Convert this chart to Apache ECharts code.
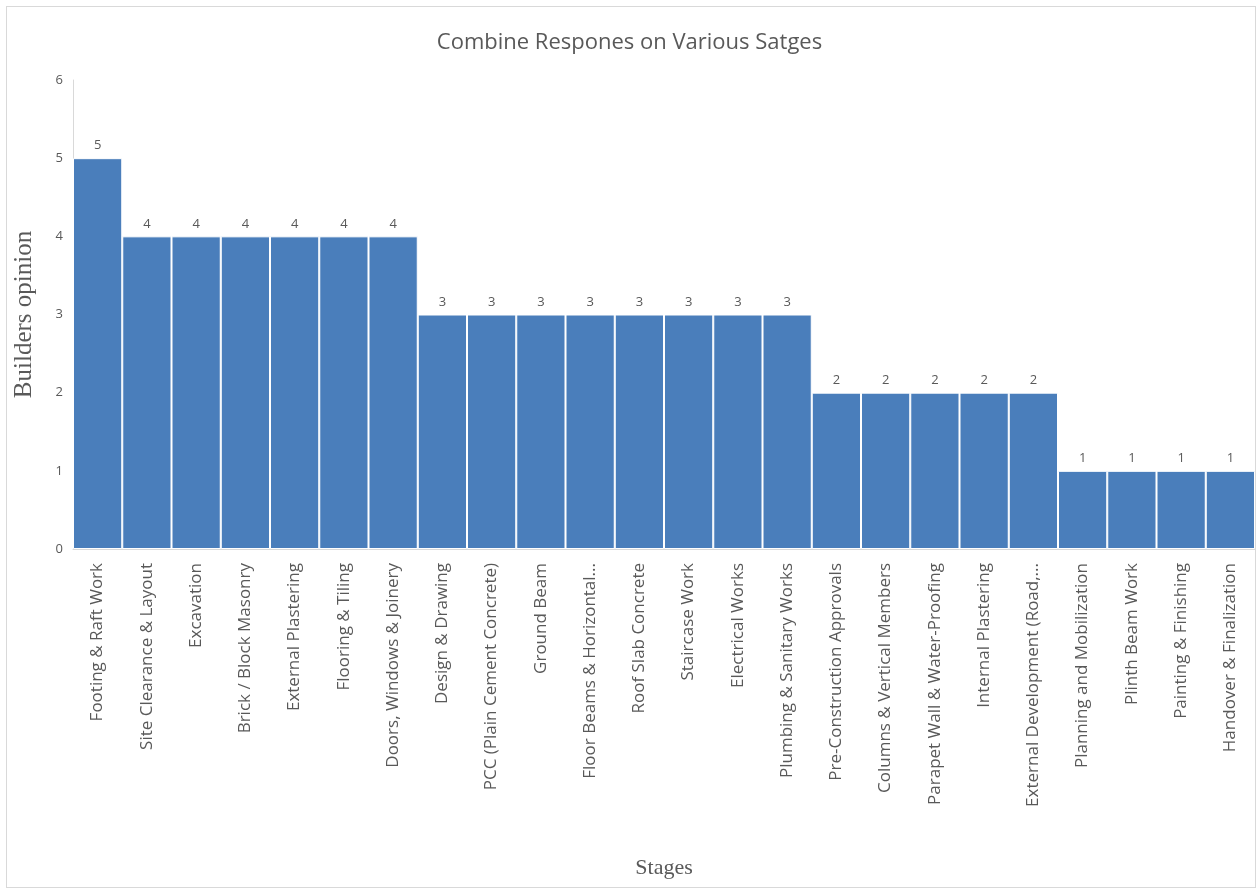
<!DOCTYPE html>
<html>
<head>
<meta charset="utf-8">
<script src="https://cdn.jsdelivr.net/npm/echarts@6/dist/echarts.min.js"></script>
<style>
  html, body { margin: 0; padding: 0; background: #fff; }
  #frame { position: absolute; left: 6px; top: 6px; width: 1250px; height: 882px; border: 1px solid #d9d9d9; box-sizing: border-box; }
  #chart { width: 1259px; height: 895px; }
</style>
</head>
<body>
<div id="frame"></div>
<div id="chart"></div>
<script>
  // stages and builders' scores
  const stages = [
    'Footing & Raft Work', 'Site Clearance & Layout', 'Excavation', 'Brick / Block Masonry',
    'External Plastering', 'Flooring & Tiling', 'Doors, Windows & Joinery', 'Design & Drawing',
    'PCC (Plain Cement Concrete)', 'Ground Beam', 'Floor Beams & Horizontal...', 'Roof Slab Concrete',
    'Staircase Work', 'Electrical Works', 'Plumbing & Sanitary Works', 'Pre-Construction Approvals',
    'Columns & Vertical Members', 'Parapet Wall & Water-Proofing', 'Internal Plastering',
    'External Development (Road,...', 'Planning and Mobilization', 'Plinth Beam Work',
    'Painting & Finishing', 'Handover & Finalization'
  ]
  const opinion = [5, 4, 4, 4, 4, 4, 4, 3, 3, 3, 3, 3, 3, 3, 3, 2, 2, 2, 2, 2, 1, 1, 1, 1]

  const myChart = echarts.init(document.getElementById('chart'))
  const option = {
    animation: false,
    title: {
      text: 'Combine Respones on Various Satges',
      left: 'center',
      top: 27,
      textStyle: { fontFamily: 'Open Sans', fontSize: 22, fontWeight: 'normal', color: '#595959' }
    },
    grid: { left: 73, right: 4, top: 80, bottom: 346 },
    xAxis: {
      type: 'category',
      data: stages,
      name: 'Stages',
      nameLocation: 'middle',
      nameGap: 308,
      nameTextStyle: { fontFamily: 'Liberation Serif', fontSize: 22, color: '#595959' },
      axisLine: { lineStyle: { color: '#d9d9d9' } },
      axisTick: { show: false },
      axisLabel: { rotate: 90, interval: 0, fontFamily: 'Open Sans', fontSize: 17, color: '#595959', margin: 14 }
    },
    yAxis: {
      type: 'value',
      min: 0,
      max: 6,
      interval: 1,
      name: 'Builders opinion',
      nameLocation: 'middle',
      nameGap: 36,
      nameTextStyle: { fontFamily: 'Liberation Serif', fontSize: 25, color: '#595959' },
      axisLine: { show: true, lineStyle: { color: '#d9d9d9' } },
      axisTick: { show: false },
      splitLine: { show: false },
      axisLabel: { fontFamily: 'Open Sans', fontSize: 13, color: '#595959', margin: 10 }
    },
    series: [{
      type: 'bar',
      data: opinion,
      barCategoryGap: '0%',
      itemStyle: { color: '#4a7ebb', borderColor: '#ffffff', borderWidth: 1 },
      label: { show: true, position: 'top', fontFamily: 'Open Sans', fontSize: 13, color: '#595959', distance: 6 }
    }]
  }
  myChart.setOption(option)
</script>
</body>
</html>
